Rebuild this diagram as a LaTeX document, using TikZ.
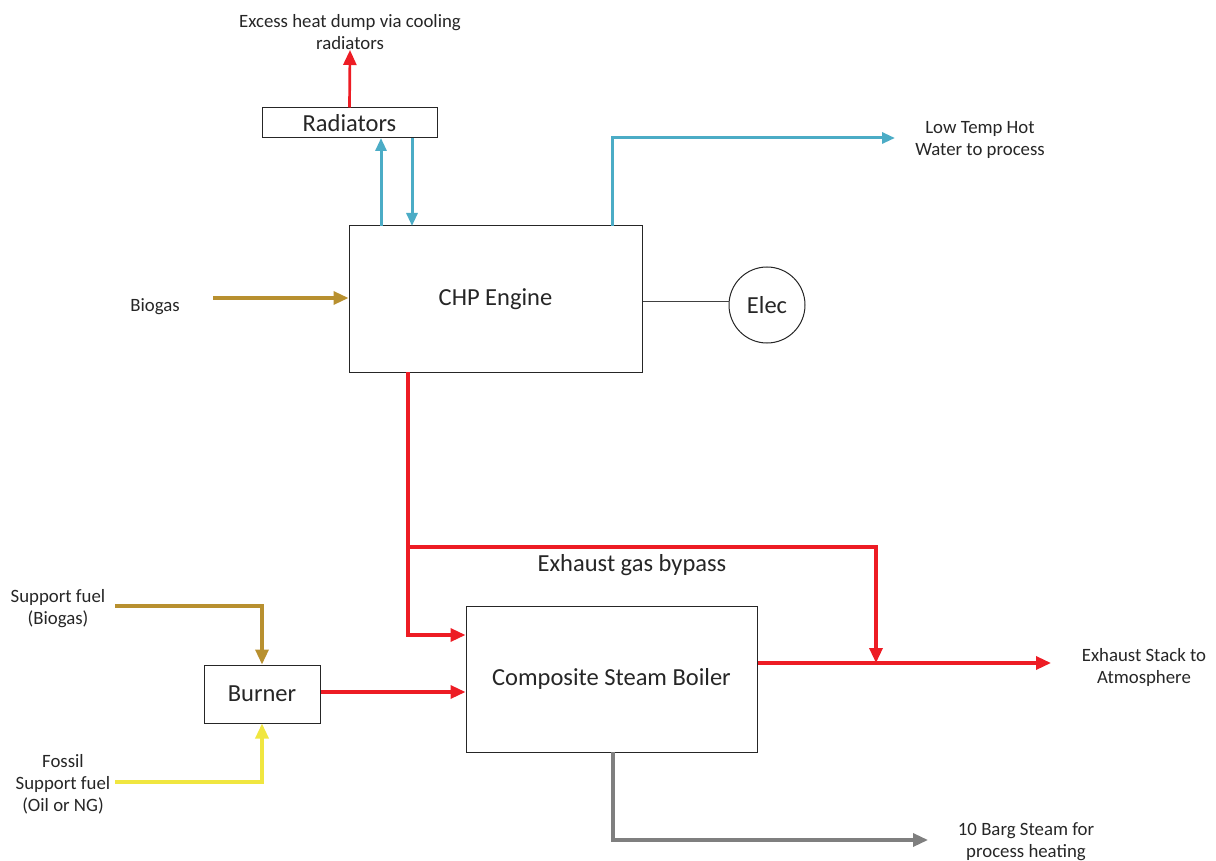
\documentclass[tikz,border=0pt]{standalone}
\usepackage{fontspec}
\setmainfont{Carlito}
\usetikzlibrary{arrows.meta}
\definecolor{cred}{HTML}{ED1C24}
\definecolor{cblue}{HTML}{4BACC6}
\definecolor{cgold}{HTML}{B8902F}
\definecolor{cyel}{HTML}{F0E640}
\definecolor{cgray}{HTML}{7F7F7F}
\definecolor{ctext}{HTML}{262626}
\tikzset{
  box/.style={draw=black!85, line width=1pt, inner sep=0pt, text=ctext, font=\fontsize{24.5}{28}\selectfont},
  lbl/.style={text=ctext, align=center, font=\fontsize{18.8}{22}\selectfont, inner sep=0pt, yshift=-2pt},
  flow/.style={line width=3.3pt, -{Triangle[length=15pt,width=13pt]}},
  bflow/.style={line width=3pt, -{Triangle[length=13pt,width=11pt]}},
}
\begin{document}
\begin{tikzpicture}[x=1pt,y=-1pt]
\useasboundingbox (0,0) rectangle (1216,861);
% boxes
\node[box, minimum width=175pt, minimum height=30pt] (rad) at (349.5,123) {\raisebox{-2pt}{Radiators}};
\node[box, minimum width=293pt, minimum height=146pt] (chp) at (495.5,299) {\raisebox{-4pt}{CHP Engine}};
\node[box, circle, minimum size=76pt] (elec) at (767,305) {Elec};
\node[box, minimum width=291pt, minimum height=146pt] (boil) at (611.5,679) {\raisebox{-5pt}{Composite Steam Boiler}};
\node[box, minimum width=116pt, minimum height=58pt] (burn) at (262,694) {\raisebox{-2pt}{Burner}};
% labels
\node[lbl] (lexc) at (350,30) {Excess heat dump via cooling\\radiators};
\node[lbl] (llow) at (980,138) {Low Temp Hot\\Water to process};
\node[lbl] (lbio) at (155,305) {Biogas};
\node[lbl, font=\fontsize{24.5}{28}\selectfont] (lbyp) at (632,563) {Exhaust gas bypass};
\node[lbl] (lsup) at (58,607) {Support fuel\\(Biogas)};
\node[lbl] (lfos) at (63,782) {Fossil\\Support fuel\\(Oil or NG)};
\node[lbl] (lstk) at (1144,665) {Exhaust Stack to\\Atmosphere};
\node[lbl, yshift=1pt] (lstm) at (1026,841) {10 Barg Steam for\\process heating};
% coordinates
\coordinate (excend) at (350,50);
\coordinate (lowend) at (895,138);
\coordinate (bioS) at (213,298);
\coordinate (supS) at (115,606);
\coordinate (fosS) at (115,782);
\coordinate (stkend) at (1051,663);
\coordinate (stmend) at (928,840);
\coordinate (bypR) at (876,547);
% radiator loops
\draw[flow, cred, line width=2.7pt] (rad.north) -- (excend);
\draw[bflow, cblue] (381,226) -- (381,138);
\draw[bflow, cblue] (412,138) -- (412,226);
\draw[bflow, cblue] (612,226) -- (612,138) -- (lowend);
% elec
\draw[black!75, line width=1pt] (chp.east |- 0,301) -- (elec.west |- 0,301);
% biogas
\draw[flow, cgold] (bioS) -- (chp.west |- bioS);
% exhaust
\draw[flow, cred] (408,372) -- (408,635) -- (boil.west |- 0,635);
\draw[flow, cred] (408,547) -- (bypR) -- (876,663);
\draw[flow, cred] (boil.east |- 0,663) -- (stkend);
\draw[flow, cred] (burn.east |- 0,692) -- (boil.west |- 0,692);
% fuels
\draw[flow, cgold] (supS) -- (262,606) -- (burn.north);
\draw[flow, cyel] (fosS) -- (262,782) -- (burn.south);
% steam
\draw[flow, cgray] (613,752) -- (613,840) -- (stmend);
\end{tikzpicture}
\end{document}
